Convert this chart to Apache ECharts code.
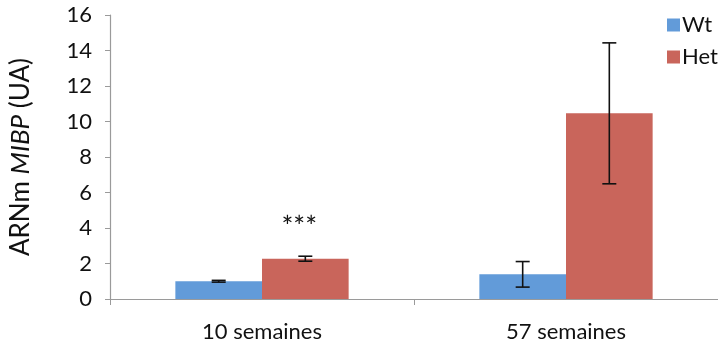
<!DOCTYPE html>
<html>
<head>
<meta charset="utf-8">
<script src="https://cdn.jsdelivr.net/npm/echarts@6/dist/echarts.min.js"></script>
<style>
  html, body { margin: 0; padding: 0; background: #fff; }
  #chart { width: 718px; height: 345px; }
</style>
</head>
<body>
<div id="chart"></div>
<script>
// Relative MIBP mRNA expression by age and genotype
const categories = ['10 semaines', '57 semaines'];
const seriesNames = ['Wt', 'Het'];
const wtMeans = [1.0, 1.39];
const wtErrors = [0.05, 0.72];
const hetMeans = [2.27, 10.46];
const hetErrors = [0.14, 3.97];
const hetSignificance = ['***', ''];
const yTicks = { min: 0, max: 16, step: 2 };

const colors = ['#629bd9', '#c9655b'];
const FONT = 'Lato';
const BAR_FRACTION = 0.285;

const chart = echarts.init(document.getElementById('chart'));

// Error bars (and optional significance marks) drawn over the bars of one series
function errorSeries(seriesIndex, means, errors, marks) {
  return {
    type: 'custom',
    name: seriesNames[seriesIndex] + '-err',
    z: 10,
    silent: true,
    data: means.map((m, i) => [i, m, errors[i]]),
    renderItem: function (params, api) {
      const cat = api.value(0);
      const mean = api.value(1);
      const err = api.value(2);
      const mark = marks ? marks[cat] : '';
      const band = api.size([1, 0])[0];
      const offset = (seriesIndex - 0.5) * BAR_FRACTION * band;
      const top = api.coord([cat, mean + err]);
      const bot = api.coord([cat, mean - err]);
      const x = top[0] + offset;
      const cap = 7;
      const style = { stroke: '#111', lineWidth: 1.6 };
      const children = [
        { type: 'line', shape: { x1: x, y1: top[1], x2: x, y2: bot[1] }, style: style },
        { type: 'line', shape: { x1: x - cap, y1: top[1], x2: x + cap, y2: top[1] }, style: style },
        { type: 'line', shape: { x1: x - cap, y1: bot[1], x2: x + cap, y2: bot[1] }, style: style }
      ];
      if (mark) {
        children.push({
          type: 'text',
          style: {
            text: mark, x: x - 6, y: top[1] - 28,
            align: 'center', verticalAlign: 'middle',
            font: '28px ' + FONT, fill: '#111'
          }
        });
      }
      return { type: 'group', children: children };
    }
  };
}

chart.setOption({
  animation: false,
  backgroundColor: '#fff',
  grid: { left: 104, top: 15, width: 618, height: 284 },
  legend: {
    data: seriesNames,
    orient: 'vertical',
    left: 662,
    top: 9,
    itemWidth: 13,
    itemHeight: 13,
    itemGap: 10,
    icon: 'rect',
    textStyle: { fontFamily: FONT, fontSize: 22, color: '#111', padding: [0, 0, 0, -3] }
  },
  xAxis: {
    type: 'category',
    data: categories,
    axisLine: { lineStyle: { color: '#9a9a9a', width: 1.2 } },
    axisTick: { show: true, length: 6, lineStyle: { color: '#9a9a9a' } },
    axisLabel: { fontFamily: FONT, fontSize: 22, color: '#111', margin: 22 }
  },
  yAxis: {
    type: 'value',
    min: yTicks.min,
    max: yTicks.max,
    interval: yTicks.step,
    name: '{n|ARNm }{i|MIBP}{n| (UA)}',
    nameLocation: 'middle',
    nameGap: 76,
    nameRotate: 90,
    nameTextStyle: {
      rich: {
        n: { fontFamily: FONT, fontSize: 26, color: '#111' },
        i: { fontFamily: FONT, fontSize: 26, color: '#111', fontStyle: 'italic' }
      }
    },
    splitLine: { show: false },
    axisLine: { show: true, lineStyle: { color: '#9a9a9a', width: 1.2 } },
    axisTick: { show: true, length: 5, lineStyle: { color: '#9a9a9a' } },
    axisLabel: { fontFamily: FONT, fontSize: 22, color: '#111', margin: 18 }
  },
  series: [
    {
      name: seriesNames[0], type: 'bar', data: wtMeans,
      barWidth: (BAR_FRACTION * 100) + '%', barGap: '0%',
      itemStyle: { color: colors[0] }
    },
    {
      name: seriesNames[1], type: 'bar', data: hetMeans,
      barWidth: (BAR_FRACTION * 100) + '%', barGap: '0%',
      itemStyle: { color: colors[1] }
    },
    errorSeries(0, wtMeans, wtErrors, null),
    errorSeries(1, hetMeans, hetErrors, hetSignificance)
  ]
});
</script>
</body>
</html>
